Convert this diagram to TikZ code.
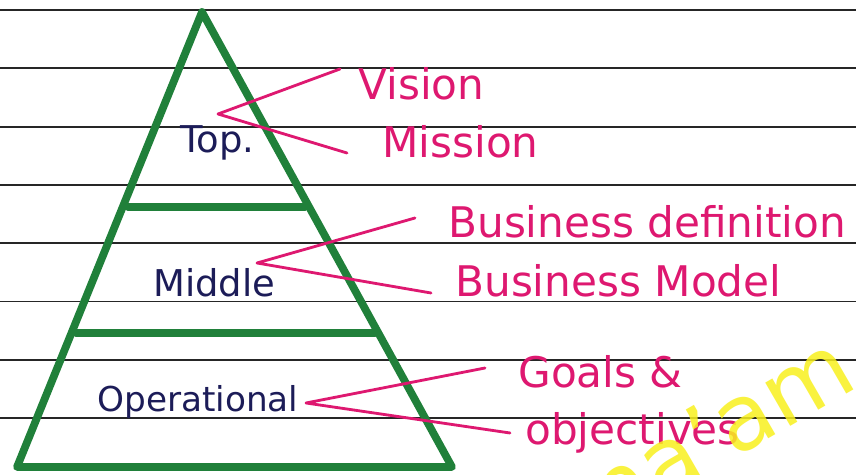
\documentclass[tikz,border=0pt]{standalone}
\usepackage{fontspec}
\setmainfont{DejaVu Sans}
\usetikzlibrary{positioning}
\definecolor{inkgreen}{RGB}{32,128,58}
\definecolor{inkpink}{RGB}{222,24,112}
\definecolor{inknavy}{RGB}{28,28,88}
\definecolor{marker}{RGB}{248,240,30}
\tikzstyle{ruling} = [line width=1.1pt, draw=black!85]
\tikzstyle{pyramid} = [line width=4.4pt, draw=inkgreen, line join=round, line cap=round]
\tikzstyle{tier} = [inner sep=0pt, anchor=base west, text=inknavy, font=\fontsize{21}{23}\selectfont]
\tikzstyle{note} = [inner sep=0pt, anchor=base west, text=inkpink, font=\fontsize{24}{26}\selectfont]
\tikzstyle{pointer} = [line width=1.6pt, draw=inkpink, line cap=round, line join=round]
\begin{document}
\begin{tikzpicture}[x=0.02cm, y=-0.02cm]
            \useasboundingbox (0,0) rectangle (856,475);
            \clip (0,0) rectangle (856,475);
            \fill[white] (0,0) rectangle (856,475);
            \foreach \y in {10,68.3,...,420} \draw[ruling] (0,\y) -- (856,\y);
            \coordinate (apex) at (202,12);
            \coordinate (baseL) at (17,467);
            \coordinate (baseR) at (452,467);
            \draw[pyramid] (apex) -- (baseR) -- (baseL) -- cycle;
            \draw[pyramid] (128,207) -- (305,207);
            \draw[pyramid] (76,333) -- (375,333);
            \node[tier] (top) at (180,153) {Top.};
            \node[tier] (middle) at (153,297) {Middle};
            \node[tier, font=\fontsize{19.5}{21}\selectfont] (operational) at (97,412) {Operational};
            \node[note] (vision) at (358,100) {Vision};
            \node[note] (mission) at (382,158) {Mission};
            \node[note] (bizdef) at (448,238) {Business definition};
            \node[note] (bizmodel) at (455,297) {Business Model};
            \node[note] (goals) at (518,388) {Goals \&};
            \node[note] (objectives) at (525,445) {objectives};
            \coordinate (topfork) at (218,114);
            \coordinate (middlefork) at (257,263);
            \coordinate (opfork) at (306,403);
            \draw[pointer] ([shift={(-18,-31)}]vision.base west) -- (topfork) -- ([shift={(-35,-5)}]mission.base west);
            \draw[pointer] ([shift={(-33,-20)}]bizdef.base west) -- (middlefork) -- ([shift={(-24,-4)}]bizmodel.base west);
            \draw[pointer] ([shift={(-33,-20)}]goals.base west) -- (opfork) -- ([shift={(-15,-12)}]objectives.base west);
            \node[text=marker, opacity=0.85, anchor=base, rotate=30, font=\fontsize{52}{54}\selectfont] (stamp) at (722,466) {ma'am};
        \end{tikzpicture}
\end{document}
